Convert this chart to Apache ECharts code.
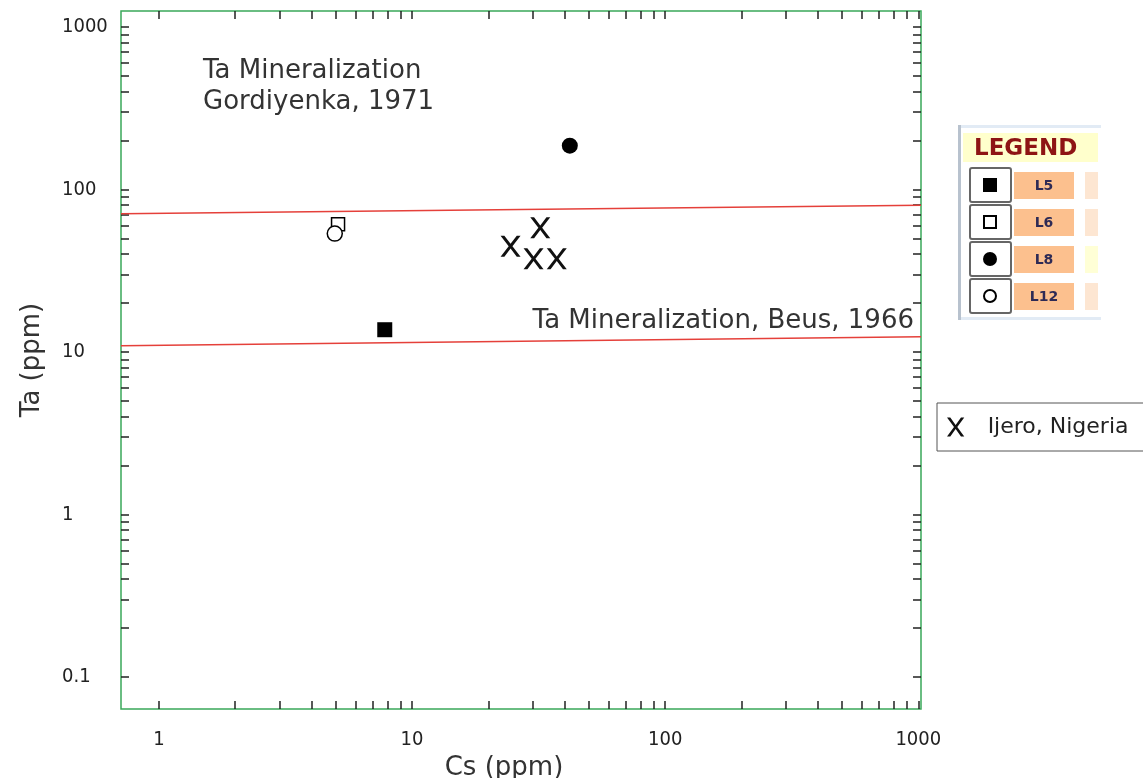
<!DOCTYPE html>
<html>
<head>
<meta charset="utf-8">
<script src="https://cdn.jsdelivr.net/npm/echarts@6.0.0/dist/echarts.min.js"></script>
<style>
  body { margin: 0; background: #fff; }
  #chart { width: 1143px; height: 778px; }
</style>
</head>
<body>
<div id="chart"></div>
<script>
// Cs / Ta values (ppm)
const groups = ['L5', 'L6', 'L8', 'L12'];
const csL5 = [7.8],  taL5 = [13.7];
const csL6 = [5.1],  taL6 = [61];
const csL8 = [42],   taL8 = [186];
const csL12 = [4.95], taL12 = [53.5];
const ijeroName = 'Ijero, Nigeria';
const csIjero = [32.1, 24.5, 30.2, 37.3];
const taIjero = [58.2, 44.8, 37.5, 37.5];

// reference lines (end points at the plot edges)
const refCs = [0.708, 1025];
const gordiyenkaTa = [71, 80];
const beusTa = [10.9, 12.4];

// axis ticks and labels
const xTicks = [1, 2, 3, 4, 5, 6, 7, 8, 9, 10, 20, 30, 40, 50, 60, 70, 80, 90,
  100, 200, 300, 400, 500, 600, 700, 800, 900, 1000];
const xLabels = [1, 10, 100, 1000];
const yTicks = [0.1, 0.2, 0.3, 0.4, 0.5, 0.6, 0.7, 0.8, 0.9, 1, 2, 3, 4, 5, 6, 7, 8, 9,
  10, 20, 30, 40, 50, 60, 70, 80, 90, 100, 200, 300, 400, 500, 600, 700, 800, 900, 1000];
const yLabels = [0.1, 1, 10, 100, 1000];

const font = 'DejaVu Sans';
const tickFont = '"Liberation Sans Narrow", "DejaVu Sans Condensed", "Liberation Sans"';
const xPath = 'path://M0,0L3.8,0L10,8.6L16.2,0L20,0L11.9,11L20,22L16.2,22L10,13.4L3.8,22L0,22L8.1,11Z';

function pairs(xs, ys) {
  return xs.map((x, i) => [x, ys[i]]);
}

const tick = { show: true, inside: true, length: 8, lineStyle: { color: '#222', width: 1.5 } };

function xAxis(pos) {
  return {
    type: 'log', logBase: 10, min: refCs[0], max: refCs[1], position: pos,
    axisLine: { show: false }, splitLine: { show: false },
    axisTick: Object.assign({ customValues: xTicks }, tick),
    axisLabel: pos === 'bottom'
      ? { customValues: xLabels, margin: 21, fontSize: 20, fontFamily: tickFont, color: '#222', formatter: v => String(v) }
      : { show: false },
    name: pos === 'bottom' ? 'Cs (ppm)' : '',
    nameLocation: 'middle', nameGap: 45,
    nameTextStyle: { fontSize: 26, color: '#333', padding: [0, 34, 0, 0] }
  };
}
function yAxis(pos) {
  return {
    type: 'log', logBase: 10, min: 0.0634, max: 1255, position: pos,
    axisLine: { show: false }, splitLine: { show: false },
    axisTick: Object.assign({ customValues: yTicks }, tick),
    axisLabel: pos === 'left'
      ? { customValues: yLabels, margin: 59, align: 'left', fontSize: 20, fontFamily: tickFont, color: '#222', formatter: v => String(v) }
      : { show: false },
    name: pos === 'left' ? 'Ta (ppm)' : '',
    nameLocation: 'middle', nameGap: 76,
    nameTextStyle: { fontSize: 26, color: '#333' }
  };
}

// legend table on the right
const legendGraphics = [
  { type: 'rect', shape: { x: 958, y: 125, width: 3, height: 195 }, style: { fill: '#b8c2ce' } },
  { type: 'rect', shape: { x: 961, y: 125, width: 140, height: 3 }, style: { fill: '#e2ebf5' } },
  { type: 'rect', shape: { x: 961, y: 317, width: 140, height: 3 }, style: { fill: '#e2ebf5' } },
  { type: 'rect', shape: { x: 963, y: 133, width: 135, height: 29 }, style: { fill: '#ffffcc' } },
  { type: 'text', x: 974, y: 149, style: { text: 'LEGEND', fontSize: 23, fontWeight: 'bold', fontFamily: font,
      fill: '#8e1414', align: 'left', verticalAlign: 'middle' } }
];
groups.forEach((g, i) => {
  const cy = 185 + 37 * i;
  legendGraphics.push({ type: 'rect', shape: { x: 970, y: cy - 17, width: 41, height: 34, r: 2 },
    style: { fill: '#fff', stroke: '#666', lineWidth: 2 } });
  legendGraphics.push({ type: 'rect', shape: { x: 1014, y: cy - 13, width: 60, height: 27 },
    style: { fill: '#fcc08e' } });
  legendGraphics.push({ type: 'rect', shape: { x: 1085, y: cy - 13, width: 13, height: 27 },
    style: { fill: i === 2 ? '#ffffd6' : '#fde6d2' } });
  legendGraphics.push({ type: 'text', x: 1044, y: cy + 1, style: { text: g, fontSize: 14, fontWeight: 'bold',
    fontFamily: font, fill: '#2e2a55', align: 'center', verticalAlign: 'middle' } });
  if (i === 0) legendGraphics.push({ type: 'rect', shape: { x: 983, y: cy - 7, width: 14, height: 14 }, style: { fill: '#000' } });
  if (i === 1) legendGraphics.push({ type: 'rect', shape: { x: 984, y: cy - 6, width: 12, height: 12 }, style: { fill: '#fff', stroke: '#000', lineWidth: 2 } });
  if (i === 2) legendGraphics.push({ type: 'circle', shape: { cx: 990, cy: cy, r: 7 }, style: { fill: '#000' } });
  if (i === 3) legendGraphics.push({ type: 'circle', shape: { cx: 990, cy: cy, r: 6 }, style: { fill: '#fff', stroke: '#000', lineWidth: 2 } });
});

const chart = echarts.init(document.getElementById('chart'));
chart.setOption({
  animation: false,
  textStyle: { fontFamily: font },
  grid: { left: 121, top: 11, width: 800, height: 698, show: true, borderColor: '#3aa85a', borderWidth: 1.5,
    outerBoundsMode: 'none', containLabel: false },
  xAxis: [xAxis('bottom'), xAxis('top')],
  yAxis: [yAxis('left'), yAxis('right')],
  legend: {
    data: [{ name: ijeroName, icon: xPath, itemStyle: { color: '#111', opacity: 1 } }],
    left: 937, top: 403, selectedMode: false,
    borderColor: '#555', borderWidth: 1, padding: [13, 16, 13, 10],
    itemWidth: 18, itemHeight: 19,
    textStyle: { fontSize: 22, color: '#222', padding: [0, 0, 0, 18] }
  },
  graphic: [
    { type: 'text', x: 203, y: 56, style: { text: 'Ta Mineralization\nGordiyenka, 1971', fontSize: 26,
        fontFamily: font, fill: '#333', lineHeight: 31, align: 'left', verticalAlign: 'top' } },
    { type: 'text', x: 914, y: 321, style: { text: 'Ta Mineralization, Beus, 1966', fontSize: 26,
        fontFamily: font, fill: '#333', align: 'right', verticalAlign: 'middle' } }
  ].concat(legendGraphics),
  series: [
    { name: 'Gordiyenka', type: 'line', data: pairs(refCs, gordiyenkaTa), showSymbol: false, silent: true,
      lineStyle: { color: '#e5403a', width: 1.5 }, z: 1 },
    { name: 'Beus', type: 'line', data: pairs(refCs, beusTa), showSymbol: false, silent: true,
      lineStyle: { color: '#e5403a', width: 1.5 }, z: 1 },
    { name: 'L5', type: 'scatter', data: pairs(csL5, taL5), symbol: 'rect', symbolSize: 15,
      itemStyle: { color: '#000', opacity: 1 }, z: 3 },
    { name: 'L6', type: 'scatter', data: pairs(csL6, taL6), symbol: 'rect', symbolSize: 13,
      itemStyle: { color: '#fff', borderColor: '#000', borderWidth: 1.5, opacity: 1 }, z: 3 },
    { name: 'L12', type: 'scatter', data: pairs(csL12, taL12), symbol: 'circle', symbolSize: 15,
      itemStyle: { color: '#fff', borderColor: '#000', borderWidth: 1.5, opacity: 1 }, z: 4 },
    { name: 'L8', type: 'scatter', data: pairs(csL8, taL8), symbol: 'circle', symbolSize: 16,
      itemStyle: { color: '#000', opacity: 1 }, z: 3 },
    { name: ijeroName, type: 'scatter', data: pairs(csIjero, taIjero), symbol: xPath, symbolSize: [20, 21],
      itemStyle: { color: '#111', opacity: 1 }, z: 3 }
  ]
});
</script>
</body>
</html>
